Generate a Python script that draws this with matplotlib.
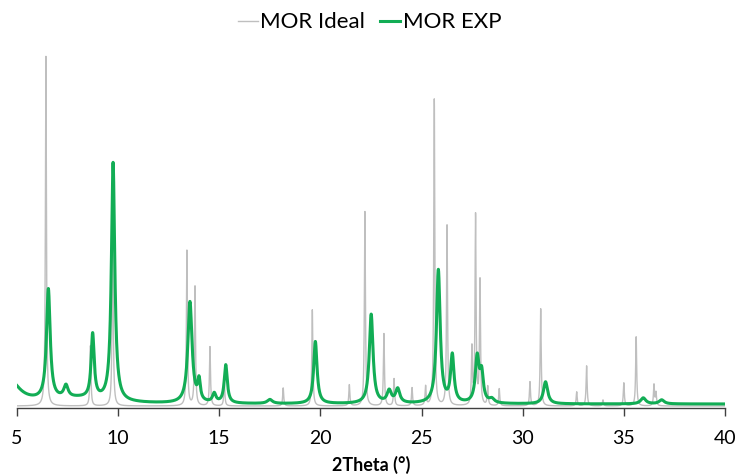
import numpy as np
import matplotlib.pyplot as plt

plt.rcParams['font.family'] = ['Lato', 'DejaVu Sans']

# 2theta range of the scan
two_theta = np.linspace(5, 40, 7001)

# simulated (ideal) MOR reflections: position (deg), intensity (a.u.)
ideal_pos = [6.43, 8.63, 9.73, 13.40, 13.80, 14.54, 15.25, 18.16, 19.60, 21.43,
             22.20, 23.14, 23.64, 24.53, 25.20, 25.63, 26.26, 27.49, 27.67, 27.89,
             28.27, 28.84, 30.36, 30.89, 32.67, 33.16, 33.97, 35.00, 35.61, 36.49,
             36.59]
ideal_int = [349, 60, 200, 155, 119, 59, 25, 18, 96, 21,
             194, 72, 27, 18, 19, 306, 180, 56, 189, 124,
             19, 17, 24, 97, 14, 40, 6, 23, 69, 21,
             13]
ideal_fwhm = 0.06
ideal_base = 2

# measured MOR reflections: position (deg), intensity (a.u.), FWHM (deg)
# first two entries are the low-angle background and a broad hump
exp_pos = [4.60, 8.00, 6.55, 7.42, 8.74, 9.75, 13.55, 14.00, 14.75, 15.32,
           17.50, 19.75, 22.51, 23.40, 23.82, 25.83, 26.52, 27.75, 27.97, 28.47,
           31.13, 35.96, 36.87]
exp_int = [24, 5, 110, 12, 64, 238, 101, 20, 9, 38,
           4, 62, 89, 12, 14, 133, 47, 45, 28, 4,
           22, 6, 4]
exp_fwhm = [1.2, 3.0, 0.22, 0.25, 0.18, 0.20, 0.25, 0.15, 0.20, 0.18,
            0.30, 0.20, 0.22, 0.25, 0.25, 0.22, 0.20, 0.22, 0.20, 0.30,
            0.25, 0.30, 0.30]
exp_base = 4


def lorentz_pattern(x, pos, inten, fwhm, base):
    y = np.full_like(x, base, dtype=float)
    fwhm = np.broadcast_to(fwhm, len(pos))
    for p, h, w in zip(pos, inten, fwhm):
        hw = w / 2
        y += h * hw**2 / ((x - p)**2 + hw**2)
    return y


ideal = lorentz_pattern(two_theta, ideal_pos, ideal_int, ideal_fwhm, ideal_base)
exp = lorentz_pattern(two_theta, exp_pos, exp_int, exp_fwhm, exp_base)

fig = plt.figure(figsize=(7.39, 4.75), dpi=100)
ax = fig.add_axes([0.023, 0.141, 0.958, 0.755])

ax.plot(two_theta, ideal, color='#bfbfbf', lw=1.0, label='MOR Ideal')
ax.plot(two_theta, exp, color='#12ad55', lw=2.2, label='MOR EXP')

ax.set_xlim(5, 40)
ax.set_ylim(0, 358)
ax.set_xticks(np.arange(5, 41, 5))
ax.set_yticks([])
for s in ['left', 'right', 'top']:
    ax.spines[s].set_visible(False)
ax.spines['bottom'].set_color('#404040')
ax.spines['bottom'].set_linewidth(1.0)
ax.tick_params(axis='x', direction='out', length=6, width=1.0, color='#404040',
               labelsize=14, pad=10)
ax.set_xlabel('2Theta (°)', fontsize=13, fontweight='bold', labelpad=6)

fig.legend(loc='center', bbox_to_anchor=(0.5, 0.953), ncol=2, frameon=False,
           fontsize=16, handlelength=0.9, handletextpad=0.1, columnspacing=0.7)

fig.savefig('out.png', dpi=100)
